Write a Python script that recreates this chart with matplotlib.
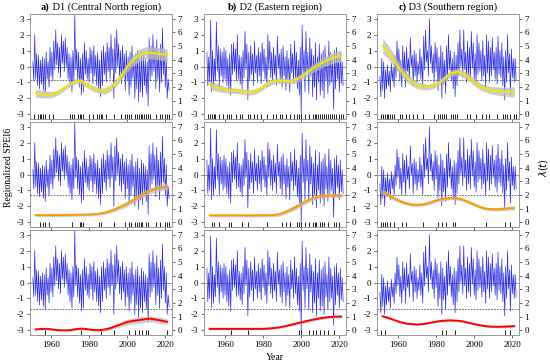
import numpy as np
import matplotlib.pyplot as plt
from matplotlib.offsetbox import TextArea, HPacker, AnchoredOffsetbox

plt.rcParams['font.family'] = ['Liberation Serif', 'DejaVu Serif']
plt.rcParams['axes.unicode_minus'] = False

# Regionalized SPEI6, read as (high, low) pairs for each year, 1950.5 -> 2022
spei_d1 = [0.3, -0.9, 2.0, -0.8, 0.8, -1.2, 0.7, -1.4, 0.4, -1.1, 0.6, -1.5,
           0.5, -1.7, 0.9, -0.8, 0.3, -1.3, 1.2, -0.6, 0.9, -0.9, 1.6, -0.2,
           2.3, 0.1, 1.5, -0.4, 1.2, -0.7, 2.0, 0.2, 1.6, -0.3, 1.8, 0.0,
           1.2, -0.8, 0.8, -1.2, 0.6, -1.6, 1.0, -0.9, 3.3, -0.2, 1.1, -0.9,
           0.9, -1.3, 0.5, -1.8, 0.8, -1.6, 1.5, -0.5, 1.0, -0.8, 0.5, -1.0,
           1.2, -0.4, 1.0, -1.1, 1.3, -0.6, 0.7, -1.2, 0.9, -1.5, 0.4, -1.9,
           1.0, -1.2, 1.3, -0.5, 0.9, -1.0, 1.5, -0.3, 1.2, -0.8, 2.0, -0.2,
           1.1, -2.0, 1.8, -0.4, 2.3, 0.0, 1.4, -0.7, 1.0, -1.1, 1.3, -0.6,
           0.8, -1.5, 1.0, -0.9, 0.6, -1.8, 0.9, -1.3, 1.3, -0.8, 0.5, -2.0,
           0.8, -1.4, 1.0, -2.2, 0.4, -1.6, 0.9, -1.9, 0.7, -1.2, 0.5, -1.7,
           0.3, -2.5, 1.8, -0.9, 1.3, -0.6, 2.0, -0.3, 1.2, -1.4, 1.7, -0.8,
           0.9, -1.6, 1.4, -1.0, 2.4, -0.5, 1.0, -1.3, 0.6, -2.0, -0.8, -1.5]
spei_d2 = [0.9, -1.2, 0.6, -1.0, 2.9, -1.6, 1.0, -1.3, 0.5, -0.9, 2.8, -0.3,
           1.3, -1.3, 1.1, -0.6, 0.9, -1.0, 1.2, -0.8, 1.0, -1.2, 0.5, -1.5,
           0.8, -1.8, 1.4, -0.5, 1.5, -0.3, 1.1, -0.9, 2.0, -0.8, 0.7, -1.1,
           0.6, -1.4, 1.0, -0.7, 2.2, -0.2, 1.4, -2.1, 0.9, -0.9, 1.3, -0.5,
           0.8, -1.2, 1.6, -0.4, 0.7, -1.0, 1.2, -0.6, 0.9, -1.1, 1.5, -0.3,
           1.1, -0.8, 0.6, -1.3, 2.0, -0.2, 1.6, -0.7, 0.9, -1.0, 1.2, -0.5,
           0.7, -1.2, 1.9, -0.1, 0.8, -0.9, 1.1, -1.3, 1.3, -0.6, 0.6, -1.5,
           1.0, -0.8, 0.5, -1.6, 1.4, -0.4, 0.8, -1.0, 1.6, -0.7, 0.9, -1.4,
           0.4, -1.8, 1.2, -3.1, 2.6, -0.5, 1.0, -1.6, 2.2, -0.4, 0.9, -1.7,
           1.8, -0.6, 1.1, -1.9, 0.7, -1.3, 1.5, -2.1, 0.6, -1.0, 1.4, -1.8,
           0.8, -1.5, 1.0, -2.0, 1.3, -0.9, 0.5, -1.7, 1.6, -1.2, 0.9, -1.0,
           0.4, -2.7, 1.0, -1.4, 1.2, -0.8, 0.6, -1.6, 0.9, -1.1, 0.3, -1.2]
spei_d3 = [-0.6, -1.9, 0.5, -1.5, 0.3, -2.0, -0.2, -1.4, 0.1, -1.2, -0.3, -1.6,
           0.2, -0.9, -0.1, -1.3, 0.6, -0.7, 1.6, -0.2, 1.1, -0.9, 0.4, -1.3,
           1.3, -0.5, 0.9, -1.3, 1.2, -0.3, 0.5, -0.9, 1.8, 0.0, 0.7, -1.2,
           1.0, -0.6, 0.8, -1.0, 0.3, -0.5, 1.1, -0.8, 0.6, -1.3, 1.9, -0.2,
           2.3, 0.3, 1.0, -0.6, 3.0, 0.2, 1.3, -0.4, 0.8, -1.0, 1.5, -0.3,
           1.2, -1.5, 0.6, -1.0, 1.3, -2.0, 0.9, -1.1, 0.4, -1.7, 1.3, -0.8,
           2.0, -0.2, 1.0, -0.9, 0.5, -1.4, 0.9, -1.9, 0.7, -1.2, 1.5, -0.6,
           2.3, 0.0, 1.1, -0.7, 2.3, -0.2, 0.9, -1.0, 1.6, -0.6, 1.2, -0.9,
           2.2, -0.1, 1.5, -0.8, 0.8, -1.1, 2.0, -0.5, 1.5, -0.3, 1.0, -0.9,
           1.6, -0.6, 0.7, -1.3, 2.0, -0.4, 1.6, -1.0, 1.2, -0.6, 1.8, -0.2,
           0.9, -0.8, 1.2, -1.1, 1.9, -0.5, 1.0, -0.7, 1.5, -1.2, 0.6, -2.1,
           1.0, -1.0, 2.0, -0.4, 0.8, -1.8, 1.1, -0.7, 0.5, -1.0, 0.5, -0.9]

# thresholds of each row (dashed line)
thresholds = [-0.84, -1.28, -1.65]

# lambda(t) estimates, every 3 years from 1952 to 2021
lam_years = np.arange(1952, 2022, 3)
lam_r1_d1 = [1.55, 1.48, 1.44, 1.46, 1.62, 1.92, 2.22, 2.42, 2.42, 2.15, 1.9, 1.75,
             1.7, 1.9, 2.3, 2.85, 3.45, 3.95, 4.3, 4.48, 4.52, 4.47, 4.4, 4.33]
lam_r1_d2 = [2.15, 2.0, 1.86, 1.78, 1.74, 1.7, 1.65, 1.6, 1.68, 1.9, 2.2, 2.4,
             2.47, 2.45, 2.42, 2.5, 2.75, 3.05, 3.35, 3.6, 3.85, 4.05, 4.2, 4.25]
lam_r1_d3 = [5.0, 4.55, 3.95, 3.3, 2.8, 2.4, 2.15, 2.02, 2.0, 2.12, 2.35, 2.7,
             3.0, 3.12, 3.0, 2.7, 2.35, 2.05, 1.88, 1.76, 1.7, 1.66, 1.64, 1.64]
lam_r2_d1 = [0.52, 0.52, 0.52, 0.52, 0.52, 0.52, 0.53, 0.54, 0.55, 0.56, 0.58, 0.62,
             0.7, 0.82, 0.98, 1.15, 1.35, 1.6, 1.85, 2.1, 2.3, 2.45, 2.55, 2.6]
lam_r2_d2 = [0.5, 0.5, 0.5, 0.5, 0.5, 0.5, 0.5, 0.5, 0.5, 0.5, 0.51, 0.52,
             0.57, 0.7, 0.9, 1.1, 1.33, 1.57, 1.75, 1.87, 1.94, 1.97, 1.97, 1.95]
lam_r2_d3 = [2.2, 2.0, 1.75, 1.55, 1.4, 1.3, 1.27, 1.3, 1.4, 1.55, 1.68, 1.75,
             1.78, 1.75, 1.65, 1.48, 1.3, 1.12, 1.0, 0.95, 0.95, 0.98, 1.02, 1.05]
lam_r3_d1 = [0.06, 0.1, 0.1, 0.05, 0.0, 0.0, 0.0, 0.08, 0.12, 0.08, 0.02, 0.0,
             0.05, 0.15, 0.3, 0.45, 0.6, 0.68, 0.74, 0.8, 0.85, 0.78, 0.7, 0.62]
lam_r3_d2 = [0.1, 0.1, 0.1, 0.1, 0.1, 0.1, 0.1, 0.1, 0.1, 0.1, 0.12, 0.15,
             0.2, 0.28, 0.38, 0.48, 0.58, 0.68, 0.77, 0.85, 0.92, 0.97, 1.0, 1.0]
lam_r3_d3 = [1.02, 0.9, 0.75, 0.6, 0.5, 0.45, 0.42, 0.45, 0.52, 0.6, 0.67, 0.71,
             0.72, 0.7, 0.65, 0.55, 0.45, 0.36, 0.3, 0.26, 0.25, 0.26, 0.28, 0.3]

# half width of the gray confidence band
band_r1_d1 = [0.3, 0.28, 0.25, 0.22, 0.2, 0.18, 0.18, 0.2, 0.2, 0.2, 0.2, 0.2,
              0.22, 0.25, 0.28, 0.3, 0.35, 0.4, 0.42, 0.45, 0.45, 0.45, 0.45, 0.48]
band_r1_d2 = [0.3, 0.28, 0.25, 0.22, 0.2, 0.2, 0.2, 0.2, 0.2, 0.2, 0.2, 0.2,
              0.2, 0.2, 0.2, 0.22, 0.25, 0.28, 0.3, 0.33, 0.35, 0.38, 0.4, 0.42]
band_r1_d3 = [0.55, 0.5, 0.45, 0.4, 0.35, 0.3, 0.25, 0.22, 0.2, 0.2, 0.2, 0.22,
              0.25, 0.25, 0.25, 0.25, 0.25, 0.25, 0.25, 0.28, 0.3, 0.32, 0.35, 0.38]
band_r2_d1 = [0.1, 0.1, 0.1, 0.1, 0.1, 0.1, 0.1, 0.1, 0.1, 0.1, 0.1, 0.1,
              0.12, 0.14, 0.16, 0.18, 0.2, 0.2, 0.2, 0.2, 0.2, 0.22, 0.22, 0.25]
band_r2_d2 = [0.1, 0.1, 0.1, 0.1, 0.1, 0.1, 0.1, 0.1, 0.1, 0.1, 0.1, 0.1,
              0.12, 0.14, 0.16, 0.18, 0.18, 0.16, 0.15, 0.14, 0.13, 0.13, 0.13, 0.14]
band_r2_d3 = [0.18, 0.16, 0.15, 0.13, 0.12, 0.12, 0.12, 0.12, 0.12, 0.12, 0.12, 0.12,
              0.12, 0.12, 0.12, 0.12, 0.12, 0.12, 0.12, 0.12, 0.12, 0.13, 0.14, 0.15]
band_r3_d1 = [0.07, 0.07, 0.07, 0.07, 0.07, 0.07, 0.07, 0.07, 0.07, 0.07, 0.07, 0.08,
              0.1, 0.12, 0.15, 0.18, 0.2, 0.22, 0.22, 0.22, 0.22, 0.22, 0.22, 0.22]
band_r3_d2 = [0.06, 0.06, 0.06, 0.06, 0.06, 0.06, 0.06, 0.06, 0.06, 0.06, 0.06, 0.07,
              0.08, 0.09, 0.1, 0.1, 0.1, 0.1, 0.1, 0.1, 0.1, 0.1, 0.11, 0.12]
band_r3_d3 = [0.08, 0.08, 0.07, 0.07, 0.07, 0.07, 0.07, 0.07, 0.07, 0.07, 0.07, 0.07,
              0.07, 0.07, 0.07, 0.07, 0.07, 0.07, 0.07, 0.07, 0.07, 0.07, 0.08, 0.08]

series = [spei_d1, spei_d2, spei_d3]
lams = [[lam_r1_d1, lam_r1_d2, lam_r1_d3],
        [lam_r2_d1, lam_r2_d2, lam_r2_d3],
        [lam_r3_d1, lam_r3_d2, lam_r3_d3]]
bands = [[band_r1_d1, band_r1_d2, band_r1_d3],
         [band_r2_d1, band_r2_d2, band_r2_d3],
         [band_r3_d1, band_r3_d2, band_r3_d3]]
row_colors = ['#f2e600', '#ff9a00', '#ff0000']
titles = [('a)', ' D1 (Central North region)'),
          ('b)', ' D2 (Eastern region)'),
          ('c)', ' D3 (Southern region)')]

W, H = 550, 364
fig = plt.figure(figsize=(W / 100, H / 100), dpi=100)

col_left = [30, 204, 377]
row_top = [14, 122, 230]
pw, ph = 142, 105
frame_col = '#9a9a9a'

for r in range(3):
    for c in range(3):
        x0 = col_left[c] / W
        y0 = 1 - (row_top[r] + ph) / H
        ax = fig.add_axes([x0, y0, pw / W, ph / H])
        y = np.array(series[c])
        t = 1950.5 + 0.5 * np.arange(len(y))

        ax.axhline(0, color='#8c8c8c', lw=0.6, zorder=1)
        ax.axhline(thresholds[r], color='#555555', lw=0.6, ls=(0, (2, 1.5)), zorder=1)
        ax.plot(t, y, color='#2f2fe0', lw=0.5, zorder=2)
        ev = t[y < thresholds[r]]
        ax.vlines(ev, -3.3, -3.0, color='black', lw=0.6, zorder=3)

        ax.set_xlim(1949, 2023.5)
        ax.set_ylim(-3.3, 3.3)
        ax.set_yticks(range(-3, 4))
        ax.set_xticks([1960, 1980, 2000, 2020])
        if r < 2:
            ax.set_xticklabels([])

        ax2 = ax.twinx()
        lam = np.array(lams[r][c])
        bw = np.array(bands[r][c])
        ax2.fill_between(lam_years, lam - bw, lam + bw, color='#bcbcbc', alpha=0.75, lw=0)
        ax2.plot(lam_years, lam, color=row_colors[r], lw=1.4)
        ax2.set_ylim(-0.35, 7.35)
        ax2.set_yticks(range(0, 8))

        for a in (ax, ax2):
            for s in a.spines.values():
                s.set_color(frame_col)
                s.set_linewidth(0.7)
            a.tick_params(labelsize=6.5, length=2.5, width=0.6, color='#555555', pad=1.5)

        if r == 0:
            tbox = HPacker(children=[
                TextArea(titles[c][0], textprops=dict(fontsize=7.5, fontweight='bold')),
                TextArea(titles[c][1], textprops=dict(fontsize=7.5))], pad=0, sep=0)
            ax.add_artist(AnchoredOffsetbox(loc='lower center', child=tbox, pad=0,
                                            borderpad=0, frameon=False,
                                            bbox_to_anchor=(0.5, 1.02),
                                            bbox_transform=ax.transAxes))

fig.text(0.015, 0.54, 'Regionalized SPEI6', rotation=90, ha='center', va='center', fontsize=7)
fig.text(0.988, 0.54, r'$\lambda(t)$', rotation=90, ha='center', va='center', fontsize=7)
fig.text(0.5, 0.018, 'Year', ha='center', va='center', fontsize=7)

fig.savefig('out.png', dpi=100)
